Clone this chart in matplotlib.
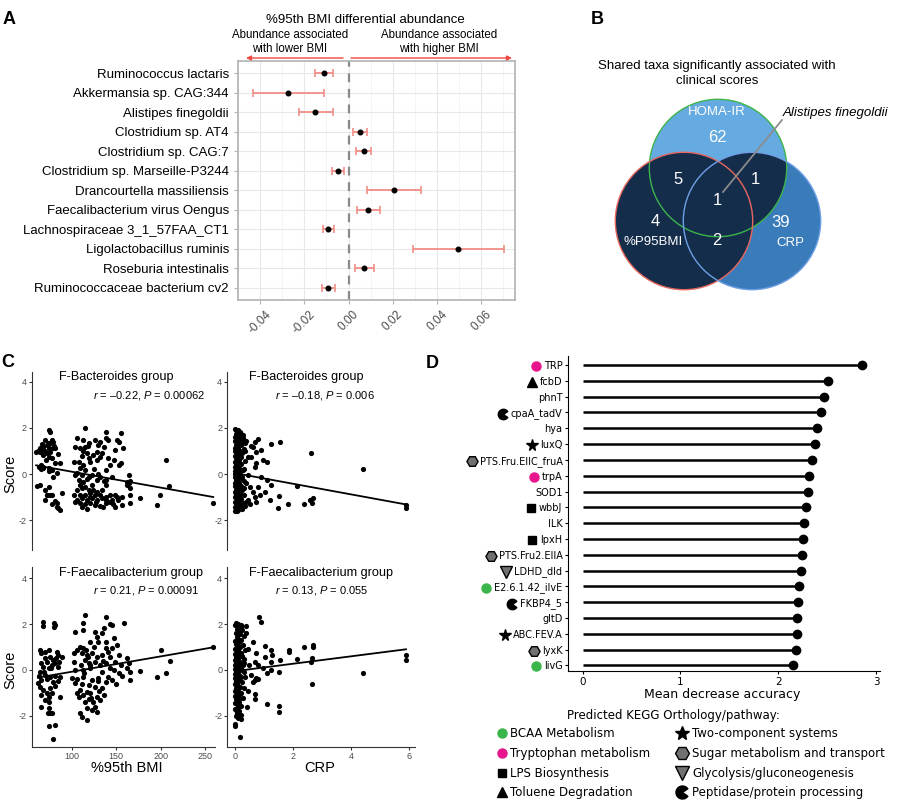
import numpy as np
import matplotlib.pyplot as plt
from matplotlib.patches import Circle
from matplotlib.path import Path

plt.rcParams['font.family'] = ['Liberation Sans', 'DejaVu Sans']
plt.rcParams['axes.unicode_minus'] = False
plt.rcParams['mathtext.fontset'] = 'custom'
plt.rcParams['mathtext.rm'] = 'Liberation Sans'
plt.rcParams['mathtext.it'] = 'Liberation Sans:italic'

# ---------------- panel A: differential abundance ----------------
taxa = ['Ruminococcus lactaris', 'Akkermansia sp. CAG:344', 'Alistipes finegoldii',
        'Clostridium sp. AT4', 'Clostridium sp. CAG:7', 'Clostridium sp. Marseille-P3244',
        'Drancourtella massiliensis', 'Faecalibacterium virus Oengus',
        'Lachnospiraceae 3_1_57FAA_CT1', 'Ligolactobacillus ruminis',
        'Roseburia intestinalis', 'Ruminococcaceae bacterium cv2']
da_est = [-0.0113, -0.0273, -0.0151, 0.0051, 0.0069, -0.0046, 0.0204, 0.0088, -0.0091, 0.0495, 0.0070, -0.0091]
da_lo = [-0.0151, -0.0431, -0.0225, 0.0021, 0.0033, -0.0073, 0.0085, 0.0037, -0.0118, 0.0292, 0.0028, -0.0121]
da_hi = [-0.0072, -0.0112, -0.0069, 0.0084, 0.0103, -0.0021, 0.0327, 0.0143, -0.0064, 0.0702, 0.0113, -0.0061]
da_ticks = [-0.04, -0.02, 0.00, 0.02, 0.04, 0.06]
da_ticklabels = ['-0.04', '-0.02', '0.00', '0.02', '0.04', '0.06']

# ---------------- panel B: venn counts (HOMA, BMI, CRP) ----------------
venn_counts = {'100': 62, '010': 4, '001': 39, '110': 5, '101': 1, '011': 2, '111': 1}
venn_names = ['HOMA-IR', '%P95BMI', 'CRP']

# ---------------- panel C: scores vs clinical measures ----------------
bact_vs_bmi = [
    (74, 1.91), (76, 1.84), (70, 1.48), (78, 1.48), (79, 1.41), (76, 1.33), (72, 1.26), (68, 1.19), (64, 1.12),
    (74, 1.12), (79, 1.12), (66, 1.04), (70, 1.0), (81, 1.12), (76, 0.97), (72, 0.9), (64, 0.94), (68, 0.83),
    (85, 0.86), (74, 0.75), (78, 0.68), (71, 0.61), (81, 0.46), (87, 0.46), (66, 0.39), (74, 0.28), (68, 0.25),
    (78, 0.17), (83, 0.03), (79, -0.11), (64, -0.48), (74, -0.55), (76, -0.91), (72, -0.91), (89, -0.84),
    (70, -1.13), (81, -1.17), (78, -1.32), (83, -1.27), (85, -1.49), (87, -1.56), (83, -1.42), (62, 1.0),
    (65, 1.1), (60, 0.95), (68, 0.3), (66, 0.2), (75, 0.15), (61, -0.5), (72, -0.9), (78, -0.9), (70, -0.7),
    (63, 0.3), (67, 1.3), (73, 1.35), (80, 1.2),
    (115, 1.99), (106, 1.58), (113, 1.48), (104, 1.19), (109, 1.12), (115, 1.19), (119, 1.33), (126, 1.48),
    (130, 1.26), (136, 1.19), (139, 1.84), (138, 1.55), (141, 1.48), (155, 1.77), (151, 1.48), (153, 1.41),
    (149, 1.04), (158, 1.12), (128, 0.97), (134, 0.9), (124, 0.83), (132, 0.75), (119, 0.68), (102, 0.54),
    (108, 0.54), (141, 0.68), (155, 0.46), (153, 0.39), (128, 0.61), (113, 0.39), (109, 0.25), (143, 0.39),
    (138, 0.17), (115, 0.17), (106, 0.03), (111, -0.04), (123, -0.04), (119, -0.11), (104, -0.04), (145, -0.11),
    (128, -0.26), (132, -0.11), (108, -0.26), (113, -0.33), (139, -0.26), (164, -0.04), (162, -0.33),
    (164, -0.41), (162, -0.48), (109, -0.48), (115, -0.55), (123, -0.48), (139, -0.48), (106, -0.7), (119, -0.7),
    (124, -0.7), (128, -0.77), (134, -0.7), (102, -0.91), (109, -0.91), (115, -0.91), (121, -0.84), (126, -0.91),
    (132, -0.91), (138, -0.99), (143, -0.91), (149, -0.91), (151, -0.99), (145, -1.13), (139, -1.13),
    (134, -1.06), (128, -1.13), (123, -1.06), (117, -1.13), (111, -1.06), (106, -1.13), (104, -1.23),
    (109, -1.27), (115, -1.32), (121, -1.27), (126, -1.35), (132, -1.38), (138, -1.27), (143, -1.23),
    (149, -1.42), (117, -1.53), (111, -1.42), (156, -1.35), (166, -1.27), (166, -0.91), (117, 0.9), (121, 0.5),
    (111, 0.8), (125, 0.2), (130, 0.0), (136, -0.3), (117, -0.2), (112, -0.6), (120, -1.0), (127, -1.2),
    (135, -1.45), (146, -1.3), (152, -1.15), (157, -1.0), (113, 1.0), (118, 1.2), (132, 1.4), (147, 0.6),
    (177, -1.05), (196, -1.36), (199, -0.92), (206, 0.61), (209, -0.51), (259, -1.28), (166, -0.3), (165, -0.6)]

bact_vs_crp = [
    (0.02, 1.95), (0.05, 1.9), (0.1, 1.85), (0.15, 1.78), (0.03, 1.75), (0.08, 1.7), (0.2, 1.72), (0.12, 1.65),
    (0.0, 1.6), (0.06, 1.55), (0.18, 1.5), (0.25, 1.45), (0.02, 1.42), (0.1, 1.38), (0.14, 1.3), (0.04, 1.28),
    (0.22, 1.25), (0.08, 1.2), (0.0, 1.15), (0.12, 1.12), (0.3, 1.1), (0.05, 1.05), (0.17, 1.0), (0.02, 0.98),
    (0.09, 0.92), (0.25, 0.9), (0.13, 0.85), (0.0, 0.8), (0.06, 0.75), (0.2, 0.72), (0.11, 0.68), (0.03, 0.62),
    (0.16, 0.6), (0.08, 0.55), (0.35, 0.55), (0.01, 0.5), (0.12, 0.45), (0.22, 0.42), (0.05, 0.38), (0.1, 0.32),
    (0.0, 0.3), (0.15, 0.25), (0.07, 0.2), (0.28, 0.18), (0.02, 0.15), (0.11, 0.1), (0.19, 0.08), (0.04, 0.05),
    (0.09, 0.0), (0.0, -0.02), (0.14, -0.05), (0.06, -0.1), (0.23, -0.12), (0.02, -0.15), (0.1, -0.2),
    (0.17, -0.22), (0.04, -0.28), (0.08, -0.32), (0.3, -0.3), (0.0, -0.38), (0.13, -0.4), (0.06, -0.45),
    (0.2, -0.5), (0.02, -0.52), (0.1, -0.58), (0.15, -0.62), (0.04, -0.68), (0.25, -0.7), (0.08, -0.75),
    (0.0, -0.8), (0.12, -0.82), (0.18, -0.88), (0.05, -0.92), (0.32, -0.9), (0.09, -0.98), (0.02, -1.02),
    (0.14, -1.05), (0.22, -1.08), (0.06, -1.12), (0.11, -1.15), (0.0, -1.2), (0.17, -1.22), (0.28, -1.25),
    (0.04, -1.28), (0.09, -1.32), (0.2, -1.35), (0.13, -1.38), (0.01, -1.42), (0.07, -1.45), (0.16, -1.48),
    (0.25, -1.5), (0.03, -1.55), (0.1, -1.58), (0.0, -1.62), (0.06, -1.6), (0.35, -1.4), (0.38, -1.2),
    (0.3, -0.6), (0.33, 0.2), (0.36, 1.0), (0.28, 1.55), (0.07, 0.85), (0.04, 1.0), (0.15, -0.9), (0.19, -1.1),
    (0.69, 1.41), (0.8, 1.52), (0.63, 1.19), (0.91, 1.04), (0.74, 0.97), (0.57, 0.75), (0.46, 0.75), (0.97, 0.61),
    (1.12, 0.54), (0.74, 0.46), (0.69, 0.32), (1.26, 1.29), (1.54, 1.38), (2.63, 0.93), (4.4, 0.22),
    (0.91, -0.11), (1.09, -0.26), (1.26, -0.48), (0.8, -0.55), (2.15, -0.52), (1.03, -0.77), (0.63, -0.77),
    (0.86, -0.91), (0.69, -0.99), (0.74, -1.2), (1.2, -1.13), (1.52, -0.94), (1.83, -1.32), (1.49, -1.49),
    (2.38, -1.32), (2.6, -1.13), (2.69, -1.03), (2.65, -1.27), (5.89, -1.35), (5.89, -1.46), (0.51, -1.32),
    (0.46, -1.13), (0.34, 1.33), (0.4, 1.44), (0.57, 1.23), (0.29, 1.7), (0.17, 1.84), (0.11, 1.91),
    (0.46, -0.04), (0.4, -0.41), (0.51, -0.55)]

faec_vs_bmi = [
    (68, 2.1), (68, 1.91), (80, 2.06), (80, 1.88), (81, 1.96), (64, 0.87), (66, 0.72), (74, 0.87), (83, 0.8),
    (85, 0.65), (70, 0.51), (76, 0.58), (79, 0.43), (89, 0.58), (72, 0.36), (78, 0.22), (81, 0.29), (68, 0.14),
    (74, 0.07), (85, 0.14), (64, -0.07), (70, -0.22), (76, -0.29), (81, -0.26), (87, -0.29), (66, -0.43),
    (72, -0.41), (79, -0.51), (64, -0.72), (76, -0.8), (81, -0.7), (68, -0.87), (66, -1.09), (74, -1.16),
    (87, -1.16), (70, -1.3), (78, -1.01), (66, -1.59), (74, -1.67), (76, -1.88), (78, -1.88), (74, -2.43),
    (81, -2.39), (79, -3.0), (62, -0.55), (63, -0.25), (65, 0.3), (70, 0.8), (72, -1.0), (75, -1.4),
    (73, -1.85), (82, 0.5), (77, 0.1), (69, -0.1), (84, -0.5), (86, 0.35),
    (115, 2.39), (113, 2.06), (113, 1.74), (104, 1.67), (139, 2.29), (143, 2.0), (145, 1.96), (136, 1.81),
    (134, 1.59), (126, 1.67), (159, 2.06), (128, 1.45), (130, 1.23), (139, 1.23), (147, 1.38), (151, 1.09),
    (145, 0.94), (138, 0.94), (109, 1.01), (113, 0.94), (106, 0.87), (102, 0.72), (111, 0.72), (117, 0.65),
    (123, 0.72), (128, 0.58), (134, 0.65), (143, 0.58), (153, 0.65), (102, 0.36), (115, 0.43), (119, 0.29),
    (126, 0.36), (132, 0.22), (139, 0.29), (149, 0.36), (155, 0.22), (162, 0.51), (164, 0.29), (162, 0.07),
    (166, -0.07), (121, 0.07), (113, 0.0), (134, -0.07), (143, 0.07), (153, -0.14), (156, -0.26), (100, -0.36),
    (106, -0.41), (113, -0.32), (123, -0.43), (130, -0.36), (138, -0.51), (145, -0.43), (166, -0.43),
    (104, -0.58), (119, -0.65), (126, -0.72), (134, -0.8), (109, -0.87), (106, -1.01), (113, -1.09),
    (121, -1.01), (128, -1.16), (136, -1.09), (108, -1.19), (119, -1.27), (124, -1.38), (132, -1.3),
    (126, -1.59), (123, -1.74), (128, -1.81), (117, -1.67), (109, -1.88), (111, -2.06), (117, -2.17),
    (141, -0.29), (116, 0.85), (118, 0.55), (120, 0.2), (114, -0.15), (111, -0.6), (117, -0.95), (122, -1.2),
    (130, -0.5), (135, 0.4), (141, 0.8), (147, 0.0), (150, -0.6), (125, 1.0), (120, 1.2), (110, 0.2),
    (104, 0.0), (131, -0.9), (115, -1.4),
    (177, -0.04), (196, -0.29), (206, -0.15), (200, 0.87), (210, 0.41), (259, 0.99)]

faec_vs_crp = [
    (0.05, 2.05), (0.1, 2.0), (0.02, 1.95), (0.15, 1.9), (0.2, 1.85), (0.08, 1.78), (0.25, 1.75), (0.12, 1.68),
    (0.03, 1.6), (0.18, 1.55), (0.3, 1.5), (0.06, 1.45), (0.1, 1.35), (0.22, 1.3), (0.0, 1.25), (0.14, 1.2),
    (0.05, 1.12), (0.28, 1.1), (0.09, 1.05), (0.17, 0.98), (0.02, 0.92), (0.12, 0.88), (0.35, 0.85), (0.06, 0.8),
    (0.2, 0.75), (0.0, 0.7), (0.1, 0.65), (0.25, 0.62), (0.04, 0.58), (0.15, 0.55), (0.08, 0.5), (0.32, 0.48),
    (0.01, 0.45), (0.12, 0.4), (0.19, 0.35), (0.05, 0.3), (0.1, 0.25), (0.27, 0.22), (0.0, 0.2), (0.14, 0.15),
    (0.07, 0.1), (0.22, 0.08), (0.02, 0.05), (0.11, 0.0), (0.17, -0.02), (0.04, -0.08), (0.09, -0.12),
    (0.3, -0.1), (0.0, -0.18), (0.13, -0.2), (0.06, -0.25), (0.2, -0.3), (0.02, -0.35), (0.1, -0.4),
    (0.15, -0.45), (0.04, -0.5), (0.25, -0.52), (0.08, -0.58), (0.0, -0.62), (0.12, -0.68), (0.18, -0.72),
    (0.05, -0.78), (0.09, -0.85), (0.02, -0.9), (0.14, -0.95), (0.22, -1.0), (0.06, -1.05), (0.11, -1.1),
    (0.0, -1.15), (0.17, -1.2), (0.04, -1.25), (0.28, -1.22), (0.09, -1.3), (0.13, -1.38), (0.02, -1.45),
    (0.07, -1.5), (0.2, -1.55), (0.1, -1.62), (0.0, -1.7), (0.05, -1.75), (0.15, -1.8), (0.08, -1.88),
    (0.2, -1.95), (0.03, -2.0), (0.12, -2.1), (0.0, -2.35), (0.0, -2.45), (0.17, -2.9), (0.2, -2.15),
    (0.1, 1.55), (0.22, 1.95), (0.3, 0.3), (0.35, -0.3), (0.33, -0.8),
    (0.82, 2.32), (0.91, 2.1), (0.61, 1.23), (1.05, 1.04), (1.26, 0.87), (1.28, 0.65), (1.26, 0.36),
    (1.03, 0.55), (0.74, 0.72), (0.71, 0.36), (0.8, 0.22), (0.97, 0.07), (1.12, -0.12), (1.26, 0.0),
    (1.51, -0.07), (1.54, 0.43), (1.85, 0.87), (1.85, 0.8), (2.15, 0.46), (2.38, 1.01), (2.69, 1.09),
    (2.69, 1.01), (2.61, 0.36), (2.65, 0.51), (2.65, -0.62), (4.4, -0.15), (5.89, 0.65), (5.89, 0.43),
    (0.69, -0.43), (0.74, -0.36), (0.8, -0.41), (0.63, -0.51), (0.69, -1.04), (0.71, -1.28), (1.12, -1.48),
    (1.51, -1.56), (1.51, -1.81), (0.43, -1.59), (0.45, 0.9), (0.5, 0.2), (0.55, -0.2), (0.4, 1.6),
    (0.38, 1.9), (0.45, -0.9)]

# fitted lines: (intercept, slope)
fit_bact_bmi = (0.793, -0.00692)
fit_bact_crp = (0.039, -0.231)
fit_faec_bmi = (-0.744, 0.00668)
fit_faec_crp = (-0.052, 0.1617)

stats_text = [r'$r$ = –0.22, $P$ = 0.00062', r'$r$ = –0.18, $P$ = 0.006',
              r'$r$ = 0.21, $P$ = 0.00091', r'$r$ = 0.13, $P$ = 0.055']
panel_titles = ['F-Bacteroides group', 'F-Bacteroides group',
                'F-Faecalibacterium group', 'F-Faecalibacterium group']

# ---------------- panel D: random forest importance ----------------
ko_names = ['TRP', 'fcbD', 'phnT', 'cpaA_tadV', 'hya', 'luxQ', 'PTS.Fru.EIIC_fruA', 'trpA', 'SOD1', 'wbbJ',
            'ILK', 'lpxH', 'PTS.Fru2.EIIA', 'LDHD_dld', 'E2.6.1.42_ilvE', 'FKBP4_5', 'gltD', 'ABC.FEV.A',
            'lyxK', 'livG']
ko_mda = [2.86, 2.51, 2.47, 2.44, 2.40, 2.38, 2.34, 2.31, 2.30, 2.28, 2.26, 2.25, 2.24, 2.23, 2.21,
          2.20, 2.19, 2.19, 2.18, 2.155]
ko_pathway = ['trp', 'tol', None, 'pep', None, 'two', 'sug', 'trp', None, 'lps', None, 'lps', 'sug', 'gly',
              'bcaa', 'pep', None, 'two', 'sug', 'bcaa']
legend_left = [('bcaa', 'BCAA Metabolism'), ('trp', 'Tryptophan metabolism'),
               ('lps', 'LPS Biosynthesis'), ('tol', 'Toluene Degradation')]
legend_right = [('two', 'Two-component systems'), ('sug', 'Sugar metabolism and transport'),
                ('gly', 'Glycolysis/gluconeogenesis'), ('pep', 'Peptidase/protein processing')]

pacman = Path.wedge(35, 325)
icon_style = {
    'bcaa': dict(marker='o', color='#3ab54a', mec='#3ab54a', ms=6.5),
    'trp': dict(marker='o', color='#e8168c', mec='#e8168c', ms=6.5),
    'lps': dict(marker='s', color='black', mec='black', ms=6),
    'tol': dict(marker='^', color='black', mec='black', ms=6.5),
    'two': dict(marker='*', color='black', mec='black', ms=8.5),
    'sug': dict(marker='H', color='#707070', mec='black', mew=1, ms=8),
    'gly': dict(marker='v', color='#707070', mec='black', mew=1, ms=8),
    'pep': dict(marker=pacman, color='black', mec='black', ms=7.5),
}

W, H = 900, 805
fig = plt.figure(figsize=(9, 8.05), dpi=100)


def px_axes(x0, y0, x1, y1):
    return fig.add_axes([x0 / W, 1 - y1 / H, (x1 - x0) / W, (y1 - y0) / H])


# ---- A ----
axA = px_axes(238, 61, 515, 300)
ypos = np.arange(len(taxa))
est = np.array(da_est)
axA.errorbar(est, ypos, xerr=[est - np.array(da_lo), np.array(da_hi) - est], fmt='o', color='black',
             ms=3.3, ecolor='#f28e86', elinewidth=1.3, capsize=3, capthick=1.2, zorder=3)
axA.axvline(0, color='#8a8a8a', ls=(0, (4, 3)), lw=1.6, zorder=2)
axA.set_xlim(-0.0488, 0.0752)
axA.set_ylim(11.62, -0.62)
axA.set_yticks(ypos)
axA.set_yticklabels(taxa, fontsize=9.5)
axA.set_xticks(da_ticks)
axA.set_xticklabels(da_ticklabels, rotation=45, fontsize=8.5, color='#4d4d4d', ha='center', va='top')
axA.set_xticks(np.arange(-0.05, 0.08, 0.02), minor=True)
axA.grid(which='major', color='#e8e8e8', lw=0.8)
axA.grid(which='minor', axis='x', color='#f2f2f2', lw=0.6)
axA.set_axisbelow(True)
for s in axA.spines.values():
    s.set_color('#b3b3b3')
    s.set_linewidth(1.2)
axA.tick_params(colors='#b3b3b3', length=3, width=0.8, labelcolor='black')
axA.tick_params(axis='x', labelcolor='#4d4d4d', pad=3)
axA.tick_params(which='minor', length=0)

# ---- C ----
scatter_sets = [bact_vs_bmi, bact_vs_crp, faec_vs_bmi, faec_vs_crp]
fits = [fit_bact_bmi, fit_bact_crp, fit_faec_bmi, fit_faec_crp]
boxes = [(31.7, 372, 215, 550), (227, 372, 415, 550), (31.7, 567, 215, 747), (227, 567, 415, 747)]
ylims = [(-3.3, 4.43), (-3.3, 4.43), (-3.35, 4.48), (-3.35, 4.48)]
xlims = [(55, 261), (-0.27, 6.2), (55, 261), (-0.27, 6.2)]
for i, (pts, fit, box) in enumerate(zip(scatter_sets, fits, boxes)):
    ax = px_axes(*box)
    xy = np.array(pts)
    ax.scatter(xy[:, 0], xy[:, 1], s=14, color='black', linewidths=0, zorder=3)
    xs = np.array([xy[:, 0].min(), xy[:, 0].max()])
    ax.plot(xs, fit[0] + fit[1] * xs, color='black', lw=1.3, zorder=4)
    ax.set_xlim(*xlims[i])
    ax.set_ylim(*ylims[i])
    ax.set_yticks([-2, 0, 2, 4])
    ax.tick_params(labelsize=6.5, colors='#333333', labelcolor='#4d4d4d', length=2, width=0.8, pad=1.5)
    for side in ['top', 'right']:
        ax.spines[side].set_visible(False)
    ax.spines['left'].set_color('#333333')
    ax.spines['bottom'].set_color('#333333')
    if i < 2:
        ax.spines['bottom'].set_visible(False)
        ax.set_xticks([])
    elif i == 2:
        ax.set_xticks([100, 150, 200, 250])
    else:
        ax.set_xticks([0, 2, 4, 6])

# ---- D ----
axD = px_axes(568, 356, 880, 671)
yd = np.arange(len(ko_names))
axD.hlines(yd, 0, ko_mda, color='black', lw=1.8)
axD.plot(ko_mda, yd, 'o', color='black', ms=6)
axD.set_xlim(-0.15, 3.04)
axD.set_ylim(19.35, -0.57)
axD.set_yticks(yd)
axD.set_yticklabels(ko_names, fontsize=7, family='DejaVu Sans')
axD.set_xticks([0, 1, 2, 3])
axD.set_xticklabels(['0', '1', '2', '3'], fontsize=7.5, family='DejaVu Sans')
axD.tick_params(length=2.5, width=0.8, pad=1.5)
for side in ['top', 'right']:
    axD.spines[side].set_visible(False)

# ---- overlay in pixel units for annotations, venn and legend ----
ov = fig.add_axes([0, 0, 1, 1])
ov.set_xlim(0, W)
ov.set_ylim(H, 0)
ov.axis('off')

for letter, (x, y) in zip('ABCD', [(9, 19), (597, 19), (8, 362), (432, 363)]):
    ov.text(x, y, letter, fontsize=13, fontweight='bold', ha='center', va='center')

# A headings
ov.text(365, 20, '%95th BMI differential abundance', fontsize=9.5, ha='center', va='center')
ov.text(290, 42, 'Abundance associated\nwith lower BMI', fontsize=8.3, ha='center', va='center', linespacing=1.3)
ov.text(439, 42, 'Abundance associated\nwith higher BMI', fontsize=8.3, ha='center', va='center', linespacing=1.3)
arrow = dict(arrowstyle='-|>', color='#f0483e', lw=1, mutation_scale=7, shrinkA=0, shrinkB=0)
ov.annotate('', xy=(246, 58), xytext=(343, 58), arrowprops=arrow)
ov.annotate('', xy=(512, 58), xytext=(351, 58), arrowprops=arrow)

# B venn
ov.text(717, 73.5, 'Shared taxa significantly associated with\nclinical scores', fontsize=9.5,
        ha='center', va='center', linespacing=1.3)
r = 68.7
c_homa, c_bmi, c_crp = (718, 168), (684, 221), (752, 221)
ov.add_patch(Circle(c_homa, r, fc='#65abe1', ec='none'))
ov.add_patch(Circle(c_crp, r, fc='#3a7cba', ec='none'))
ov.add_patch(Circle(c_bmi, r, fc='#142d4b', ec='none'))
both = Circle(c_crp, r, fc='#142d4b', ec='none')
ov.add_patch(both)
both.set_clip_path(Circle(c_homa, r, transform=ov.transData))
ov.add_patch(Circle(c_homa, r, fill=False, ec='#3cb44b', lw=1))
ov.add_patch(Circle(c_bmi, r, fill=False, ec='#e8675e', lw=1))
ov.add_patch(Circle(c_crp, r, fill=False, ec='#6fa0e6', lw=1))
venn_pos = {'100': (717, 137), '110': (678, 180), '101': (755, 180), '111': (717, 200),
            '010': (655, 221), '011': (717, 240), '001': (781, 222)}
for key, (x, y) in venn_pos.items():
    ov.text(x, y, str(venn_counts[key]), color='white', fontsize=12, ha='center', va='center')
for name, (x, y) in zip(venn_names, [(717, 112), (653, 242), (790, 243)]):
    ov.text(x, y, name, color='white', fontsize=9.5, ha='center', va='center')
ov.plot([723, 782], [192, 120], color='#8c8c8c', lw=1.3)
ov.text(783, 113, 'Alistipes finegoldii', fontsize=9.5, style='italic', ha='left', va='center')

# C labels
title_xy = [(59, 377), (249, 377), (59, 573), (249, 573)]
stat_xy = [(149, 395), (325, 395), (146, 590), (322, 590)]
for t, (x, y) in zip(panel_titles, title_xy):
    ov.text(x, y, t, fontsize=9.1, ha='left', va='center')
for t, (x, y) in zip(stats_text, stat_xy):
    ov.text(x, y, t, fontsize=8, ha='center', va='center')
for y in [474, 670]:
    ov.text(10, y, 'Score', fontsize=10.5, rotation=90, ha='center', va='center')
ov.text(127, 768, '%95th BMI', fontsize=10.5, ha='center', va='center')
ov.text(320, 768, 'CRP', fontsize=10.5, ha='center', va='center')

# D labels and legend
ov.text(722, 694, 'Mean decrease accuracy', fontsize=9, family='DejaVu Sans', ha='center', va='center')
ov.text(673, 715, 'Predicted KEGG Orthology/pathway:', fontsize=8.5, family='DejaVu Sans',
        ha='center', va='center')
leg_rows = [733, 753, 773, 792]
for (key, label), y in zip(legend_left, leg_rows):
    ov.plot(501.5, y, ls='none', **icon_style[key])
    ov.text(510, y, label, fontsize=8.5, family='DejaVu Sans', ha='left', va='center')
for (key, label), y in zip(legend_right, leg_rows):
    st = dict(icon_style[key])
    st['ms'] = st['ms'] * 1.25
    ov.plot(682, y, ls='none', **st)
    ov.text(692.5, y, label, fontsize=8.5, family='DejaVu Sans', ha='left', va='center')

fig.canvas.draw()
inv = ov.transData.inverted()
for lbl, key in zip(axD.get_yticklabels(), ko_pathway):
    if key is None:
        continue
    bb = lbl.get_window_extent()
    x, y = inv.transform((bb.x0, (bb.y0 + bb.y1) / 2))
    ov.plot(x - 8, y, ls='none', **icon_style[key])

fig.savefig('out.png', dpi=100)
